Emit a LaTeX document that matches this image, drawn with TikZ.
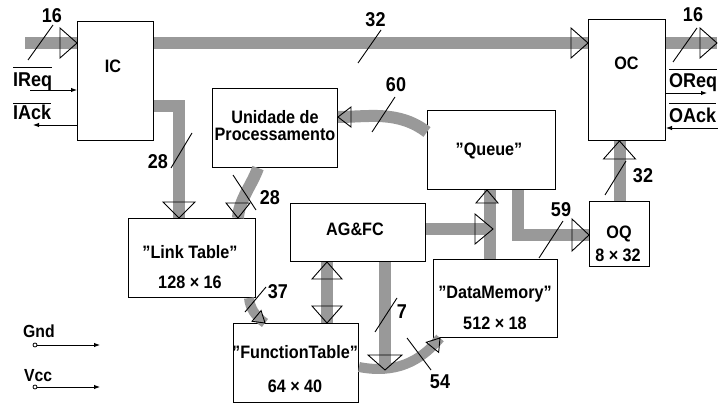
\documentclass[tikz,border=0pt]{standalone}
\usepackage{fontspec}
\setmainfont{Liberation Sans}[FakeStretch=0.9]
\usetikzlibrary{arrows.meta,calc}
\definecolor{busgray}{gray}{0.6}
\begin{document}
\begin{tikzpicture}[x=1pt,y=-1pt,
  box/.style={draw, line width=1pt, inner sep=0pt, anchor=north west},
  bus/.style={line width=12pt, draw=busgray, line join=miter},
  cbus/.style={line width=10pt, draw=busgray},
  tristyle/.style={draw=black, line width=0.9pt, fill=none, line join=miter},
  slash/.style={line width=0.9pt},
  num/.style={font=\fontsize{20}{22}\selectfont\bfseries, inner sep=0pt, anchor=base},
  txt/.style={font=\fontsize{18}{20}\selectfont\bfseries, inner sep=0pt, anchor=base},
  sigtxt/.style={font=\fontsize{20}{22}\selectfont\bfseries, inner sep=0pt, anchor=base west},
  pintxt/.style={font=\fontsize{17.5}{20}\selectfont\bfseries, inner sep=0pt, anchor=base west},
  sig/.style={line width=0.9pt, -{Latex[length=6pt,width=4.5pt]}},
  pics/tri/.style n args={2}{code={\draw[tristyle] (0,0)--(-#2,#1)--(-#2,-#1)--cycle;}}
]
\useasboundingbox (0,0) rectangle (718,404);

% boxes
\node[box, minimum width=76pt, minimum height=119pt] (IC) at (77,21) {};
\node[box, minimum width=77pt, minimum height=121pt] (OC) at (588,19) {};
\node[box, minimum width=125pt, minimum height=79pt] (UP) at (212,88) {};
\node[box, minimum width=128pt, minimum height=79pt] (Q) at (427,110) {};
\node[box, minimum width=60pt, minimum height=65pt] (OQ) at (589,201) {};
\node[box, minimum width=124pt, minimum height=78pt] (DM) at (433,259) {};
\node[box, minimum width=135pt, minimum height=58pt] (AG) at (290,203) {};
\node[box, minimum width=127pt, minimum height=79pt] (LT) at (128,218) {};
\node[box, minimum width=125pt, minimum height=79pt] (FT) at (233,323) {};

% box texts
\node[txt] (tIC) at (113,73) {IC};
\node[txt] (tOC) at (626.5,70) {OC};
\node[txt] (tUP1) at (275,123) {Unidade de};
\node[txt] (tUP2) at (275,140) {Processamento};
\node[txt] (tQ) at (489,155) {"Queue"};
\node[txt] (tOQ1) at (619,238) {OQ};
\node[txt] (tOQ2) at (618,261) {8 × 32};
\node[txt] (tLT1) at (190,258) {"Link Table"};
\node[txt] (tLT2) at (190,288) {128 × 16};
\node[txt] (tAG) at (355,235) {AG\&FC};
\node[txt] (tDM1) at (495,298) {"DataMemory"};
\node[txt] (tDM2) at (495,329) {512 × 18};
\node[txt] (tFT1) at (295,358) {"FunctionTable"};
\node[txt] (tFT2) at (295,392) {64 × 40};

% free ends / bends
\coordinate (inL) at (25,43);
\coordinate (outR) at (717,43);
\coordinate (icl) at (179,106);
\coordinate (q59) at (518,235);
\coordinate (dmq) at (490,259);
\coordinate (agr) at (493,229);
\coordinate (agf) at (327,290);
\coordinate (ag7) at (385,370);

% buses
\draw[bus] (inL) -- (inL -| IC.west);
\draw[bus] (inL -| IC.east) -- (inL -| OC.west);
\draw[bus] (outR -| OC.east) -- (outR);
\draw[bus] (icl -| IC.east) -- (icl) -- (icl |- LT.north);
\draw[bus] ($(UP.south west)+(46,0)$) .. controls (252,185) and (239,200) .. ($(LT.north west)+(110,0)$);
\draw[bus] ($(Q.north west)+(0,22)$) .. controls (398,110) and (368,117) .. ($(UP.north east)+(0,29)$);
\draw[bus] (OQ.north) -- (OQ.north |- OC.south);
\draw[bus] (q59 |- Q.south) -- (q59) -- (q59 -| OQ.west);
\draw[bus] (dmq |- DM.north) -- (dmq |- Q.south);
\draw[bus] (agr -| AG.east) -- (agr);
\draw[bus] (agf |- AG.south) -- (agf |- FT.north);
\draw[bus] (ag7 |- AG.south) -- (ag7);
\draw[cbus] ($(FT.north east)+(0,44)$) .. controls (395,374) and (420,362) .. ($(DM.south west)+(7,0)$);
\draw[cbus] ($(LT.south east)+(-7,0)$) .. controls (250,308) and (255,316) .. ($(FT.north west)+(32,0)$);

% arrow triangles
\pic at (inL -| IC.west) {tri={15}{17}};
\pic at (inL -| OC.west) {tri={15}{17}};
\pic at (outR) {tri={15}{17}};
\pic[rotate=-90] at (icl |- LT.north) {tri={16}{16}};
\pic[rotate=-90] at ($(LT.north west)+(110,0)$) {tri={12}{15}};
\pic[rotate=180] at ($(UP.north east)+(0,29)$) {tri={10}{13}};
\pic[rotate=90] at (OQ.north |- OC.south) {tri={16}{18}};
\pic at (q59 -| OQ.west) {tri={16}{17}};
\pic[rotate=90] at ($(dmq |- Q.south)+(-3,0)$) {tri={11}{13}};
\pic at (agr) {tri={15}{18}};
\pic[rotate=90] at (agf |- AG.south) {tri={15}{17}};
\pic[rotate=-90] at (agf |- FT.north) {tri={15}{17}};
\pic[rotate=-90] at (ag7) {tri={17}{15}};
\pic[rotate=51] at ($(DM.south west)+(7,0)$) {tri={8}{12}};
\pic[rotate=-40] at ($(FT.north west)+(32,0)$) {tri={7}{11}};

% width slashes and numbers
\draw[slash] (28,60) -- (53,25);   \node[num] (n16a) at (52,23) {16};
\draw[slash] (358,63) -- (381,30); \node[num] (n32a) at (375.5,27) {32};
\draw[slash] (673,62) -- (697,28); \node[num] (n16b) at (693,22) {16};
\draw[slash] (171,168) -- (192,133); \node[num] (n28a) at (158,168) {28};
\draw[slash] (233,175) -- (256,210); \node[num] (n28b) at (270,204) {28};
\draw[slash] (372,132) -- (395,97); \node[num] (n60) at (396,92) {60};
\draw[slash] (605,195) -- (626,161); \node[num] (n32b) at (643,182) {32};
\draw[slash] (539,258) -- (563,221); \node[num] (n59) at (561,216) {59};
\draw[slash] (375,332) -- (397,298); \node[num] (n7) at (402,318) {7};
\draw[slash] (407,338) -- (431,370); \node[num] (n54) at (440,388) {54};
\draw[slash] (245,312) -- (266,287); \node[num] (n37) at (278,298) {37};

% handshake signals
\node[sigtxt] (tIReq) at (13,86) {IReq};
\draw[slash] ($(tIReq.north west)+(0,-5)$) -- ($(tIReq.north east)+(0,-5)$);
\node[sigtxt] (tIAck) at (13,120) {IAck};
\draw[slash] ($(tIAck.north west)+(0,-2)$) -- ($(tIAck.north east)+(0,-2)$);
\node[sigtxt] (tOReq) at (669,88) {OReq};
\draw[slash] ($(tOReq.north west)+(0,-4)$) -- ($(tOReq.north east)+(0,-4)$);
\node[sigtxt] (tOAck) at (669,122) {OAck};
\draw[slash] ($(tOAck.north west)+(0,-4)$) -- ($(tOAck.north east)+(0,-4)$);

\coordinate (ireq) at (30,90);
\coordinate (iack) at (33,125);
\coordinate (oreq) at (707,93);
\coordinate (oack) at (718,128);
\draw[sig] (ireq) -- (ireq -| IC.west);
\draw[sig] (iack -| IC.west) -- (iack);
\draw[sig] (oreq -| OC.east) -- (oreq);
\draw[sig] (oack) -- (oack -| OC.east);

% supply pins
\node[pintxt] (tGnd) at (23,337) {Gnd};
\node[pintxt] (tVcc) at (24,381) {Vcc};
\coordinate (gnd0) at (35,345);
\coordinate (gnd1) at (100,345);
\coordinate (vcc0) at (35,387);
\coordinate (vcc1) at (100,387);
\draw[sig] ($(gnd0)+(2,0)$) -- (gnd1);
\draw[line width=0.8pt] (gnd0) circle[radius=2];
\draw[sig] ($(vcc0)+(2,0)$) -- (vcc1);
\draw[line width=0.8pt] (vcc0) circle[radius=2];
\end{tikzpicture}
\end{document}
